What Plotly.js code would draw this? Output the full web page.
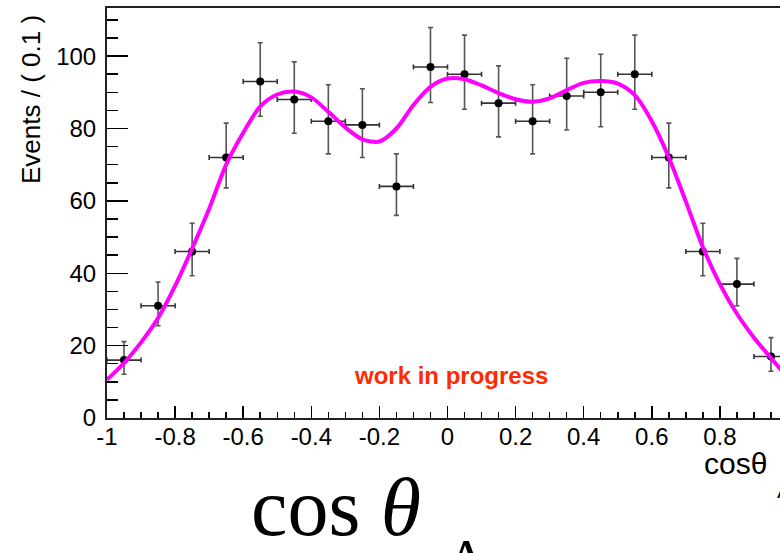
<!DOCTYPE html>
<html>
<head>
<meta charset="utf-8">
<script src="https://cdn.plot.ly/plotly-3.0.1.min.js"></script>
<style>
html, body { margin:0; padding:0; overflow:hidden; background:#fff; }
#chart { width:800px; height:553px; }
</style>
</head>
<body>
<div id="chart"></div>
<script>
// ---- data ----
const binCenters = [-0.95,-0.85,-0.75,-0.65,-0.55,-0.45,-0.35,-0.25,-0.15,-0.05,0.05,0.15,0.25,0.35,0.45,0.55,0.65,0.75,0.85,0.95];
const events     = [16,31,46,72,93,88,82,81,64,97,95,87,82,89,90,95,72,46,37,17];
const errPlus    = [5.1,6.6,7.8,9.5,10.7,10.4,10.1,10.0,9.0,10.9,10.8,10.3,10.1,10.4,10.5,10.8,9.5,7.8,7.1,5.2];
const errMinus   = [3.9,5.5,6.7,8.4,9.6,9.3,9.0,9.0,8.0,9.8,9.7,9.3,9.0,9.4,9.5,9.7,8.4,6.7,6.0,4.1];
const binHalfWidth = 0.05;

const fitX = [-1,-0.95,-0.9,-0.85,-0.8,-0.75,-0.7,-0.65,-0.6,-0.55,-0.5,-0.45,-0.4,-0.35,-0.3,-0.25,-0.2,-0.15,-0.1,-0.05,0,0.05,0.1,0.15,0.2,0.25,0.3,0.35,0.4,0.45,0.5,0.55,0.6,0.65,0.7,0.75,0.8,0.85,0.9,0.95,1];
const fitY = [10.6,15.2,20.9,27.6,36.5,46.8,57.8,70.0,78.8,86.1,89.4,90.2,88.6,84.6,80.3,77.0,76.4,80.0,86.5,91.5,93.8,93.6,91.9,89.8,88.1,87.4,88.3,90.6,92.6,93.1,92.4,89.2,82.0,72.0,59.8,47.2,37.0,28.8,22.2,16.6,11.0];

const xTickVals = [-1,-0.8,-0.6,-0.4,-0.2,0,0.2,0.4,0.6,0.8,1];
const xTickText = ['-1','-0.8','-0.6','-0.4','-0.2','0','0.2','0.4','0.6','0.8','1'];
const yTickVals = [0,20,40,60,80,100];
const yTickText = ['0','20','40','60','80','100'];

const yTitle = 'Events / ( 0.1 )';
const xTitle = 'cosθ';
const xTitleSub = 'Λ';
const bigLabel = 'cos <i>θ</i>';
const bigLabelSub = 'Λ';
const stamp = 'work in progress';

// ---- drawing ----
const sans = 'Liberation Sans, Arial, Helvetica, sans-serif';
const serif = 'Liberation Serif, DejaVu Serif, serif';

const dataTrace = {
  type:'scatter', mode:'markers',
  x: binCenters, y: events,
  marker:{color:'#000', size:8},
  error_y:{type:'data', symmetric:false, array:errPlus, arrayminus:errMinus, color:'#555', thickness:1.6, width:2.5},
  error_x:{type:'constant', value:binHalfWidth, color:'#333', thickness:1.6, width:2.5},
  showlegend:false, hoverinfo:'skip'
};
const fitTrace = {
  type:'scatter', mode:'lines',
  x: fitX, y: fitY,
  line:{color:'#ff00ff', width:4, shape:'spline', smoothing:0.8},
  showlegend:false, hoverinfo:'skip'
};

const layout = {
  width:800, height:553,
  margin:{l:107, r:12, t:8, b:135},
  paper_bgcolor:'#fff', plot_bgcolor:'#fff',
  font:{family:sans, color:'#000'},
  xaxis:{
    range:[-1,1], showgrid:false, zeroline:false,
    showline:true, linecolor:'#222', linewidth:2, mirror:true,
    ticks:'inside', ticklen:12, tickwidth:1.5, tickcolor:'#000',
    tickmode:'array', tickvals:xTickVals, ticktext:xTickText,
    tickfont:{family:sans, size:24, color:'#000'},
    ticklabelstandoff:-4,
    minor:{dtick:0.05, tick0:-1, ticks:'inside', ticklen:6, tickwidth:1.5, tickcolor:'#000', showgrid:false}
  },
  yaxis:{
    range:[0,113.3], showgrid:false, zeroline:false,
    showline:true, linecolor:'#222', linewidth:2, mirror:true,
    ticks:'inside', ticklen:21, tickwidth:1.5, tickcolor:'#000',
    tickmode:'array', tickvals:yTickVals, ticktext:yTickText,
    tickfont:{family:sans, size:24, color:'#000'},
    ticklabelstandoff:4,
    minor:{dtick:5, tick0:0, ticks:'inside', ticklen:11, tickwidth:1.5, tickcolor:'#000', showgrid:false}
  },
  annotations:[
    {text:yTitle, xref:'paper', yref:'paper', x:-0.1116, y:0.7756, xanchor:'center', yanchor:'middle',
     textangle:-90, showarrow:false, font:{family:sans, size:26, color:'#000'}},
    {text:xTitle, xref:'paper', yref:'paper', x:0.9721, y:-0.1098, xanchor:'right', yanchor:'middle',
     showarrow:false, font:{family:sans, size:30, color:'#000'}},
    {text:xTitleSub, xref:'paper', yref:'paper', x:0.981, y:-0.178, xanchor:'left', yanchor:'middle',
     showarrow:false, font:{family:sans, size:21, color:'#000'}},
    {text:stamp, xref:'x', yref:'y', x:0.009, y:11.7, xanchor:'center', yanchor:'middle',
     showarrow:false, font:{family:sans, size:24, color:'#ff2a00', weight:'bold'}},
    {text:bigLabel, xref:'paper', yref:'paper', x:0.337, y:-0.2195, xanchor:'center', yanchor:'middle',
     showarrow:false, font:{family:serif, size:82, color:'#000'}},
    {text:bigLabelSub, xref:'paper', yref:'paper', x:0.5286, y:-0.344, xanchor:'center', yanchor:'middle',
     showarrow:false, font:{family:serif, size:57, color:'#000'}}
  ]
};

Plotly.newPlot('chart', [dataTrace, fitTrace], layout, {staticPlot:true, displayModeBar:false});
</script>
</body>
</html>
